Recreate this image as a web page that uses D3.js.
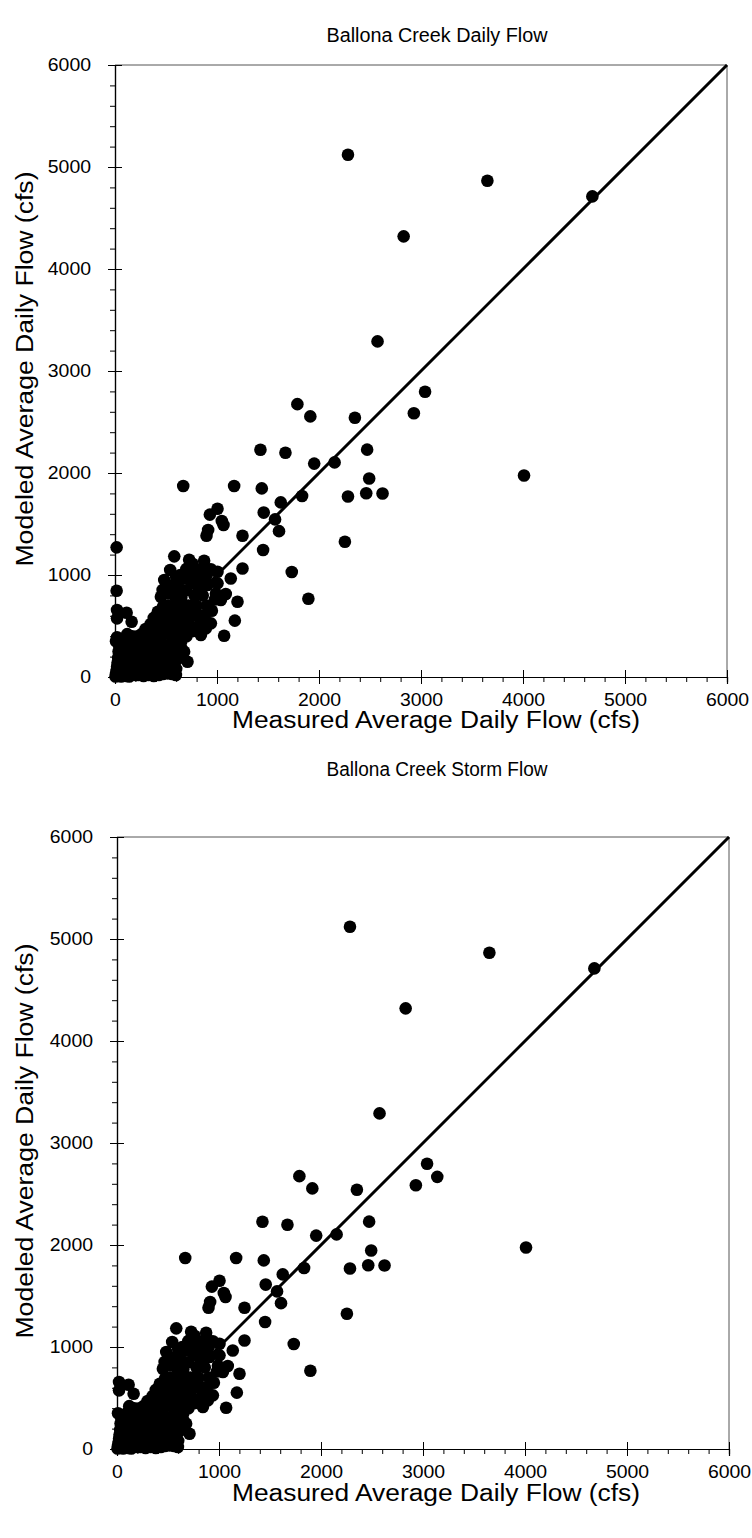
<!DOCTYPE html>
<html>
<head>
<meta charset="utf-8">
<script src="https://cdn.jsdelivr.net/npm/d3@7"></script>
<style>
  html, body { margin: 0; padding: 0; background: #fff; }
  svg { display: block; }
  text { font-family: "Liberation Sans", Arial, sans-serif; fill: #000; }
</style>
</head>
<body>
<svg id="chart" width="752" height="1538"></svg>
<script>
// ---------------- DATA ----------------
const chartTitles = ["Ballona Creek Daily Flow", "Ballona Creek Storm Flow"];
const xAxisTitle = "Measured Average Daily Flow (cfs)";
const yAxisTitle = "Modeled Average Daily Flow (cfs)";
const majorTicks = [0, 1000, 2000, 3000, 4000, 5000, 6000];
const minorTicks = [200, 400, 600, 800, 1200, 1400, 1600, 1800, 2200, 2400, 2600, 2800,
  3200, 3400, 3600, 3800, 4200, 4400, 4600, 4800, 5200, 5400, 5600, 5800];
const oneToOne = [0, 6000];

// points common to both panels [measured, modeled]
const sharedPoints = [
  [2284,5120],[3651,4865],[4680,4712],[2830,4320],[2574,3290],
  [1788,2675],[1915,2555],[2352,2541],[2930,2586],[3040,2796],
  [1426,2228],[1671,2198],[1953,2092],[2153,2104],[2472,2229],[2492,1946],
  [2463,1801],[2623,1799],[2284,1770],[1834,1775],[4010,1976],
  [669,1872],[1168,1872],[1439,1849],
  [1625,1712],[1005,1650],[930,1592],[1047,1529],[1064,1490],[1458,1612],
  [1569,1545],[1608,1430],[1250,1385],[913,1441],[897,1385],
  [1452,1245],[2254,1326],[1733,1030],[1896,767],
  [581,1183],[727,1150],[760,1111],[874,1140],[940,1056],[1005,1032],[1250,1064],
  [1135,966],[695,1032],[662,964],[541,1049],[483,951],[467,853],[450,787],
  [1201,738],[1175,553],[1070,405],[1038,755],[1086,813],[1005,918],[907,902],
  [989,817],[826,608],[776,657],[940,526],[891,477],[842,412],[727,493],[630,461],
  [646,395],[652,281],[646,199],[711,150],[842,572],[809,493],
  [499,216],[483,101],[581,118],[516,36],[597,20],[369,167],[678,248],[430,20],[470,30],
  [20,657],[20,575],[114,630],[163,542],
  // band along the 1:1 line
  [300,300],[350,420],[400,380],[420,520],[450,600],[500,560],[520,700],[550,650],
  [580,800],[600,720],[620,880],[650,780],[700,850],[720,700],[750,920],[780,800],
  [800,1000],[820,880],[850,950],[880,1080],[900,1000],[560,480],[600,560],[480,420],
  [520,460],[400,300],[440,350],[350,250],[380,330],[700,620],[760,600],[800,700],
  [680,540],[730,580],[620,300],[560,350],[540,250],[600,400],[500,300],[450,250],
  [420,150],[380,90],[330,200],[300,120],[620,640],[660,700],[540,560],[480,520],
  [450,470],[400,460],[360,360],[320,380],[280,330],[260,420],[300,470],[350,520],
  [420,640],[380,580],[470,690],[520,820],[560,900],[600,980],[640,1000],[700,1060],
  [760,1000],[820,1050],[860,800],[900,700],[950,650],[980,760],[880,600],[700,400],
  [760,450],[650,350],[580,250],[540,150],[620,180],
  // dense cluster near the origin
  [5,5],[10,30],[15,60],[20,100],[25,140],[30,190],[35,250],[40,310],[10,350],
  [50,20],[55,80],[60,130],[65,200],[70,270],[75,330],[80,40],[85,100],[90,170],
  [95,230],[100,300],[105,360],[110,10],[115,60],[120,120],[125,190],[130,250],
  [135,320],[140,30],[150,90],[160,150],[170,210],[180,280],[190,340],[200,20],
  [210,70],[220,130],[230,190],[240,250],[250,310],[260,40],[270,100],[280,170],
  [290,230],[300,280],[310,50],[320,110],[330,160],[340,220],[350,330],[360,60],
  [380,130],[400,200],[420,260],[440,40],[460,100],[480,170],[500,60],[530,120],
  [560,30],[600,80],[230,20],[280,10],[330,20],[380,10],[140,5],[60,5],[170,400],
  [120,420],[220,400],[260,380]
];
// points only in the Daily Flow panel
const dailyOnlyPoints = [[16,1271],[16,846],[20,389]];
// points only in the Storm Flow panel
const stormOnlyPoints = [[3140,2668]];

// ---------------- DRAW ----------------
const svg = d3.select("#chart");

const panels = [
  { title: chartTitles[0], points: sharedPoints.concat(dailyOnlyPoints),
    left: 115, right: 727, top: 65, bottom: 677, titleY: 42, xLabelY: 728 },
  { title: chartTitles[1], points: sharedPoints.concat(stormOnlyPoints),
    left: 117, right: 729, top: 837, bottom: 1449, titleY: 776, xLabelY: 1501 }
];

const digitW = 10.8; // rendered width per digit in tick labels

panels.forEach(p => {
  const x = d3.scaleLinear().domain([0, 6000]).range([p.left, p.right]);
  const y = d3.scaleLinear().domain([0, 6000]).range([p.bottom, p.top]);
  const g = svg.append("g");

  // frame (top & right)
  g.append("line").attr("x1", p.left).attr("x2", p.right).attr("y1", p.top).attr("y2", p.top)
    .attr("stroke", "#555").attr("stroke-width", 1);
  g.append("line").attr("x1", p.right).attr("x2", p.right).attr("y1", p.top).attr("y2", p.bottom)
    .attr("stroke", "#555").attr("stroke-width", 1);

  // x axis
  const xMinor = d3.axisBottom(x).tickValues(minorTicks).tickSize(5).tickFormat("");
  g.append("g").attr("transform", `translate(0,${p.bottom})`).call(xMinor);
  const xMajor = d3.axisBottom(x).tickValues(majorTicks).tickSize(7).tickPadding(9)
    .tickFormat(d3.format("d"));
  const gx = g.append("g").attr("transform", `translate(0,${p.bottom})`).call(xMajor);
  gx.selectAll(".tick line").attr("y1", -7);

  // y axis
  const yMinor = d3.axisLeft(y).tickValues(minorTicks).tickSize(5).tickFormat("");
  g.append("g").attr("transform", `translate(${p.left},0)`).call(yMinor);
  const yMajor = d3.axisLeft(y).tickValues(majorTicks).tickSize(7).tickPadding(17)
    .tickFormat(d3.format("d"));
  const gy = g.append("g").attr("transform", `translate(${p.left},0)`).call(yMajor);
  gy.selectAll(".tick line").attr("x1", 7);

  g.selectAll(".tick text")
    .attr("font-size", 18)
    .attr("font-family", "Liberation Sans, Arial, sans-serif")
    .attr("textLength", d => String(d).length * digitW)
    .attr("lengthAdjust", "spacingAndGlyphs");

  g.selectAll(".domain").attr("stroke", "#000").attr("stroke-width", 1.2);
  g.selectAll(".tick line").attr("stroke", "#000");

  // 1:1 line
  g.append("line")
    .attr("x1", x(oneToOne[0])).attr("y1", y(oneToOne[0]))
    .attr("x2", x(oneToOne[1])).attr("y2", y(oneToOne[1]))
    .attr("stroke", "#000").attr("stroke-width", 3);

  // points
  g.append("g").selectAll("circle").data(p.points).join("circle")
    .attr("cx", d => x(d[0])).attr("cy", d => y(d[1])).attr("r", 6.3)
    .attr("fill", "#000");

  // titles
  g.append("text").attr("x", 437).attr("y", p.titleY)
    .attr("text-anchor", "middle").attr("font-size", 20)
    .attr("textLength", 221).attr("lengthAdjust", "spacingAndGlyphs").text(p.title);
  g.append("text").attr("x", 436).attr("y", p.xLabelY)
    .attr("text-anchor", "middle").attr("font-size", 23)
    .attr("textLength", 408).attr("lengthAdjust", "spacingAndGlyphs").text(xAxisTitle);
  g.append("text")
    .attr("transform", `translate(33,${(p.top + p.bottom) / 2 - 2}) rotate(-90)`)
    .attr("text-anchor", "middle").attr("font-size", 23)
    .attr("textLength", 395).attr("lengthAdjust", "spacingAndGlyphs").text(yAxisTitle);
});
</script>
</body>
</html>
